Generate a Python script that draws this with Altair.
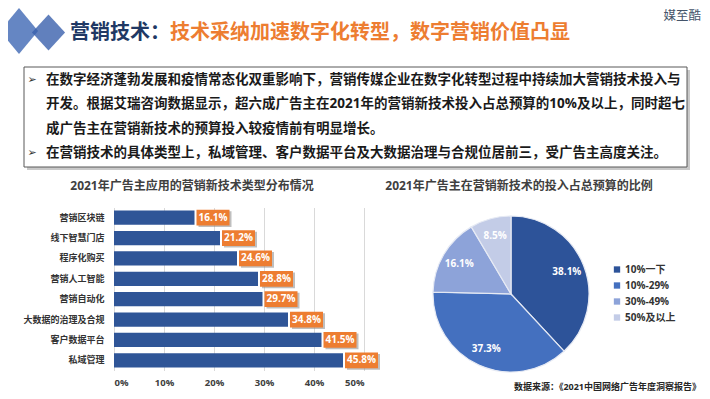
import altair as alt
import pandas as pd

# ---------------- data ----------------
tech_names = ["营销区块链", "线下智慧门店", "程序化购买", "营销人工智能",
              "营销自动化", "大数据的治理及合规", "客户数据平台", "私域管理"]
tech_values = [16.1, 21.2, 24.6, 28.8, 29.7, 34.8, 41.5, 45.8]
x_ticks = [0, 10, 20, 30, 40, 50]

budget_labels = ["10%一下", "10%-29%", "30%-49%", "50%及以上"]
budget_values = [38.1, 37.3, 16.1, 8.5]
budget_colors = ["#2D5399", "#4470BF", "#8DA3D9", "#C3CCE7"]

title_main = "营销技术："
title_accent = "技术采纳加速数字化转型，数字营销价值凸显"
brand = "媒至酷"
bullet_lines = [
    "在数字经济蓬勃发展和疫情常态化双重影响下，营销传媒企业在数字化转型过程中持续加大营销技术投入与",
    "开发。根据艾瑞咨询数据显示，超六成广告主在2021年的营销新技术投入占总预算的10%及以上，同时超七",
    "成广告主在营销新技术的预算投入较疫情前有明显增长。",
    "在营销技术的具体类型上，私域管理、客户数据平台及大数据治理与合规位居前三，受广告主高度关注。",
]
bar_title = "2021年广告主应用的营销新技术类型分布情况"
pie_title = "2021年广告主在营销新技术的投入占总预算的比例"
source_note = "数据来源：《2021中国网络广告年度洞察报告》"

# ---------------- layout helpers ----------------
FONT = "Open Sans, Noto Sans CJK SC"
OX, OY = 114, 207.5          # page position of the bar plot origin
PW, PH = 250, 163            # bar plot area
TOTAL_W, TOTAL_H = 694, 383


def px(x):
    return x - OX


def py(y):
    return y - OY


one = alt.Data(values=[{"k": 1}])


def text_layer(txt, x, y, size, color, weight="bold", align="left", font=FONT):
    return alt.Chart(one).mark_text(
        text=txt, align=align, baseline="middle", fontSize=size,
        fontWeight=weight, color=color, font=font
    ).encode(x=alt.value(px(x)), y=alt.value(py(y)))


def rect_layer(x1, y1, x2, y2, **kw):
    return alt.Chart(one).mark_rect(**kw).encode(
        x=alt.value(px(x1)), x2=alt.value(px(x2)),
        y=alt.value(py(y1)), y2=alt.value(py(y2)))


def diamond(cx, cy, half_h, ratio, color, opacity):
    path = f"M0,-1L{ratio},0L0,1L-{ratio},0Z"
    return alt.Chart(one).mark_point(
        shape=path, size=(2 * half_h) ** 2, filled=True, color=color,
        opacity=opacity, strokeWidth=0
    ).encode(x=alt.value(px(cx)), y=alt.value(py(cy)))


# ---------------- header ----------------
header = [
    diamond(19, 31, 23, 0.83, "#5479BD", 0.9),
    diamond(48.5, 32.5, 18, 0.92, "#3A60AD", 0.8),
    text_layer(title_main, 70, 33, 20, "#203864"),
    text_layer(title_accent, 170, 33, 20, "#ED7D31"),
    text_layer(brand, 701, 16, 12.5, "#44546A", weight="normal", align="right"),
    rect_layer(27, 70, 690, 170, fill="#C9C9C9"),
    rect_layer(24, 67, 687, 167, fill="white", stroke="#595959", strokeWidth=1),
]
line_y = [79.5, 104, 128.5, 153]
for t, yy in zip(bullet_lines, line_y):
    header.append(text_layer(t, 46, yy, 13.5, "#1A1A1A"))
for yy in (line_y[0], line_y[3]):
    header.append(text_layer("➢", 32, yy, 11, "#333333", weight="normal",
                             align="center", font="DejaVu Sans"))

subtitles = [
    text_layer(bar_title, 192, 186, 12, "#404040", align="center"),
    text_layer(pie_title, 519, 186, 12, "#404040", align="center"),
    text_layer(source_note, 701, 386.5, 9, "#262626", align="right"),
]

# ---------------- bar chart ----------------
tech_df = pd.DataFrame({"name": tech_names, "value": tech_values})

yenc = alt.Y("name:N", sort=tech_names,
             scale=alt.Scale(paddingInner=0.3, paddingOuter=0.15),
             axis=alt.Axis(title=None, labelFont=FONT, labelFontSize=9,
                           labelFontWeight="bold", labelColor="#333333",
                           labelPadding=10, domain=False, ticks=False))
xenc = alt.X("value:Q", scale=alt.Scale(domain=[0, 50], nice=False),
             axis=alt.Axis(title=None, values=x_ticks,
                           labelExpr="datum.value + '%'", labelFont=FONT,
                           labelFontSize=9.5, labelFontWeight="bold",
                           labelColor="#404040", labelPadding=7,
                           grid=True, gridColor="#D9D9D9", domain=False,
                           ticks=False))

bar_base = alt.Chart(tech_df).encode(y=yenc, x=xenc).transform_calculate(
    label="format(datum.value, '.1f') + '%'")

bars = bar_base.mark_bar(color="#2F5597")
BOX = "M0,-0.48L2,-0.48L2,0.48L0,0.48Z"
box_shadow = bar_base.mark_point(shape=BOX, size=33 * 33, filled=True,
                                 color="#8A8A8A", opacity=0.55, strokeWidth=0,
                                 xOffset=4, yOffset=1.5)
boxes = bar_base.mark_point(shape=BOX, size=33 * 33, filled=True,
                            color="#ED7D31", opacity=1, strokeWidth=0,
                            xOffset=2)
box_text = bar_base.mark_text(align="center", baseline="middle", dx=18.5,
                              color="white", fontWeight="bold", fontSize=10,
                              font=FONT).encode(text="label:N")

# ---------------- pie chart ----------------
pie_df = pd.DataFrame({"label": budget_labels, "value": budget_values,
                       "order": list(range(len(budget_labels)))})
pie_df["lbl"] = [f"{v:.1f}%" for v in budget_values]

pie_base = alt.Chart(pie_df).encode(
    theta=alt.Theta("value:Q", stack=True),
    order=alt.Order("order:Q"),
    x=alt.value(px(511)), y=alt.value(py(294)))

arcs = pie_base.mark_arc(outerRadius=78, stroke="#E6EAF4", strokeWidth=1.2).encode(
    color=alt.Color("label:N",
                    scale=alt.Scale(domain=budget_labels, range=budget_colors),
                    legend=alt.Legend(title=None, orient="none",
                                      legendX=px(612), legendY=py(264.5),
                                      symbolType="square", symbolSize=40,
                                      symbolStrokeWidth=0, labelFont=FONT,
                                      labelFontSize=10, labelFontWeight="bold",
                                      labelColor="#333333", labelOffset=3,
                                      rowPadding=6, padding=0)))
pie_text = pie_base.mark_text(radius=60, color="white", fontWeight="bold",
                              fontSize=10, font=FONT).encode(text="lbl:N")

layers = header + subtitles + [bars, box_shadow, boxes, box_text, arcs, pie_text]

chart = alt.layer(*layers).properties(
    width=PW, height=PH,
    padding={"left": OX - 8, "top": OY - 8,
             "right": TOTAL_W - (OX - 8) - PW,
             "bottom": TOTAL_H - (OY - 8) - PH},
    autosize=alt.AutoSizeParams(type="none"),
    background="white",
).configure_view(stroke=None)

chart.save("out.html", embed_options={"renderer": "svg", "actions": False})
